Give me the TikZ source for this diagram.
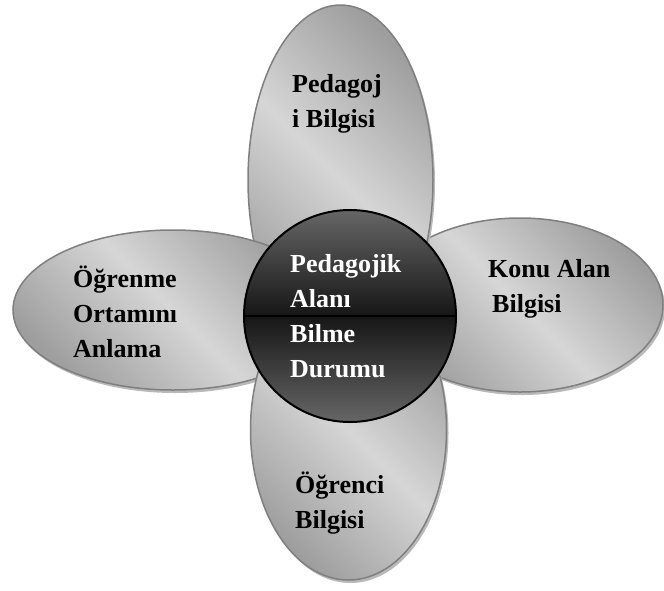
\documentclass[tikz,border=0pt]{standalone}
\usepackage{fontspec}
\setmainfont{Liberation Serif}
\usetikzlibrary{shapes.geometric,shadows}
\definecolor{petallight}{HTML}{D6D6D6}
\definecolor{petaldark}{HTML}{9E9E9E}
\definecolor{petalline}{HTML}{7F7F7F}
\definecolor{hubgrey}{HTML}{666666}
\definecolor{hubdark}{HTML}{161616}
\begin{document}
\begin{tikzpicture}[x=1pt,y=-1pt]
	\tikzset{petal/.style = {shape=ellipse,draw=petalline,line width=1.5pt,top color=petaldark,bottom color=petaldark,middle color=petallight,shading angle=-45,general shadow={fill=gray!55,shadow xshift=2pt,shadow yshift=-3pt}}}
	\tikzset{hub/.style = {shape=circle,draw=black,line width=2pt,top color=hubgrey,bottom color=hubgrey,middle color=hubdark,minimum size=212pt,inner sep=0pt}}
	\tikzset{petaltext/.style = {align=left,anchor=base west,inner sep=0pt,font=\fontsize{26}{35}\selectfont\bfseries}}
	\useasboundingbox (0,0) rectangle (664,590);
	% petals, back to front
	\node[petal,minimum width=286pt,minimum height=174pt] (konu) at (520,305) {};
	\node[petal,minimum width=185pt,minimum height=350pt] (pedagoji) at (340.5,180) {};
	\node[petal,minimum width=320pt,minimum height=160pt] (ortam) at (173,310) {};
	\node[petal,minimum width=196pt,minimum height=300pt] (ogrenci) at (348.5,430) {};
	% centre
	\node[hub] (hub) at (350,316) {};
	\draw[line width=2.5pt] (hub.west) -- (hub.east);
	% texts (base = last line)
	\node[petaltext] (tpedagoji) at (292,127) {Pedagoj\\i Bilgisi};
	\node[petaltext] (tkonu) at (488,312) {Konu Alan\\\hspace*{4pt}Bilgisi};
	\node[petaltext] (tortam) at (73,357) {Öğrenme\\Ortamını\\Anlama};
	\node[petaltext] (togrenci) at (295,528) {Öğrenci\\Bilgisi};
	\node[petaltext,text=white] (thub) at (290,377) {Pedagojik\\Alanı\\Bilme\\Durumu};
\end{tikzpicture}
\end{document}
